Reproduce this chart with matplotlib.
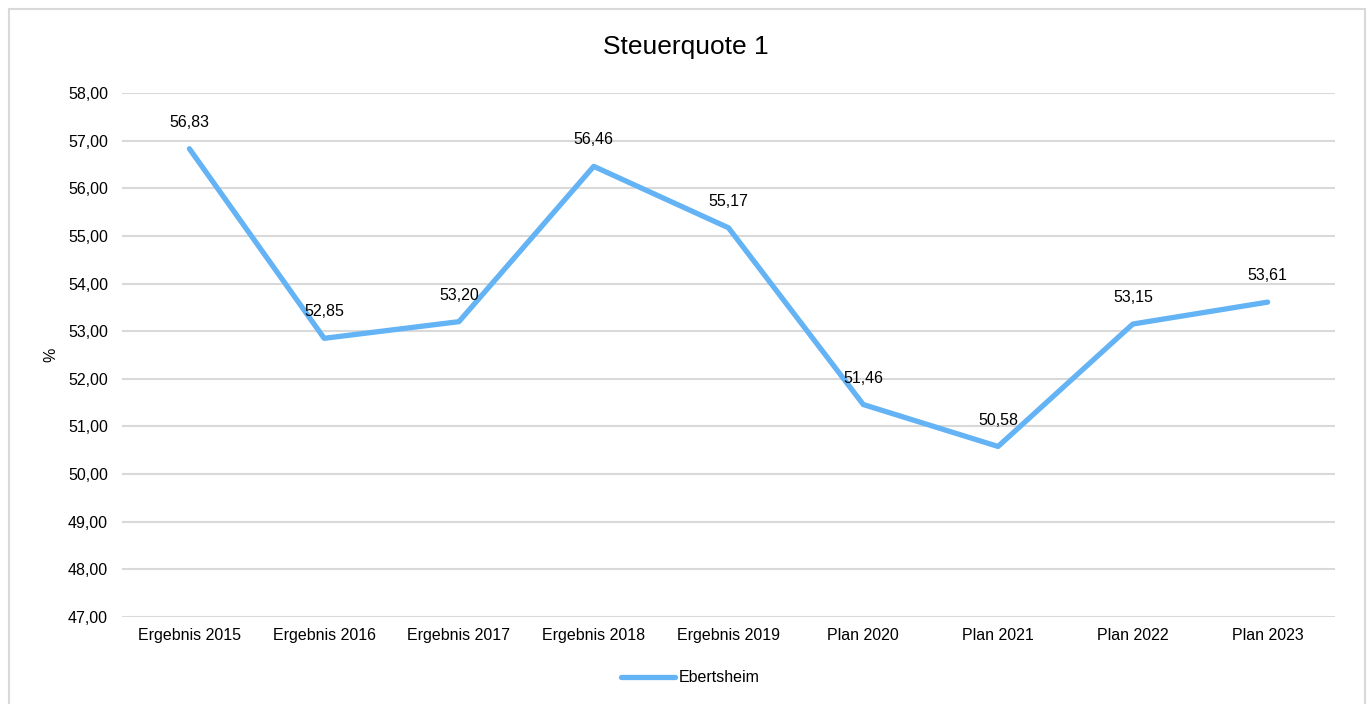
import matplotlib.pyplot as plt
from matplotlib.patches import Rectangle

plt.rcParams['font.family'] = ['Liberation Sans', 'DejaVu Sans']

categories = ["Ergebnis 2015", "Ergebnis 2016", "Ergebnis 2017", "Ergebnis 2018",
              "Ergebnis 2019", "Plan 2020", "Plan 2021", "Plan 2022", "Plan 2023"]
values = [56.83, 52.85, 53.20, 56.46, 55.17, 51.46, 50.58, 53.15, 53.61]
yticks = [47, 48, 49, 50, 51, 52, 53, 54, 55, 56, 57, 58]

line_color = "#63B3F5"
grid_color = "#D9D9D9"
fs = 11.5

fig = plt.figure(figsize=(13.68, 7.04), dpi=100)
# chart border like the Excel chart area
fig.patches.append(Rectangle((9 / 1368, -0.05), (1365 - 9) / 1368, 1.05 - 9 / 704,
                             transform=fig.transFigure, fill=False,
                             edgecolor=grid_color, linewidth=1.5))

ax = fig.add_axes([122 / 1368, 1 - 617 / 704, (1335 - 122) / 1368, (617 - 93) / 704])
x = list(range(len(categories)))
ax.plot(x, values, color=line_color, linewidth=3.8, solid_capstyle='round',
        solid_joinstyle='round', label="Ebertsheim", zorder=3)

for xi, v in zip(x, values):
    ax.annotate(f"{v:.2f}".replace(".", ","), (xi, v), xytext=(0, 19),
                textcoords='offset points', ha='center', va='center', fontsize=fs)

ax.set_xlim(-0.5, len(categories) - 0.5)
ax.set_ylim(47, 58)
ax.set_yticks(yticks)
ax.set_yticklabels([f"{t:.2f}".replace(".", ",") for t in yticks], fontsize=fs)
ax.set_xticks(x)
ax.set_xticklabels(categories, fontsize=fs)
ax.tick_params(axis='y', length=0, pad=10)
ax.tick_params(axis='x', length=0, pad=8)
ax.grid(axis='y', color=grid_color, linewidth=1.5)
ax.set_axisbelow(True)
for s in ax.spines.values():
    s.set_visible(False)
ax.set_ylabel("%", fontsize=fs, labelpad=7)

fig.text(686 / 1368, 1 - 47 / 704, "Steuerquote 1", ha='center', va='center', fontsize=19)
fig.legend(loc='center', bbox_to_anchor=(690 / 1368, 1 - 678 / 704), frameon=False,
           fontsize=fs, handlelength=3.4, handletextpad=0.2)

fig.savefig("out.png", dpi=100)
